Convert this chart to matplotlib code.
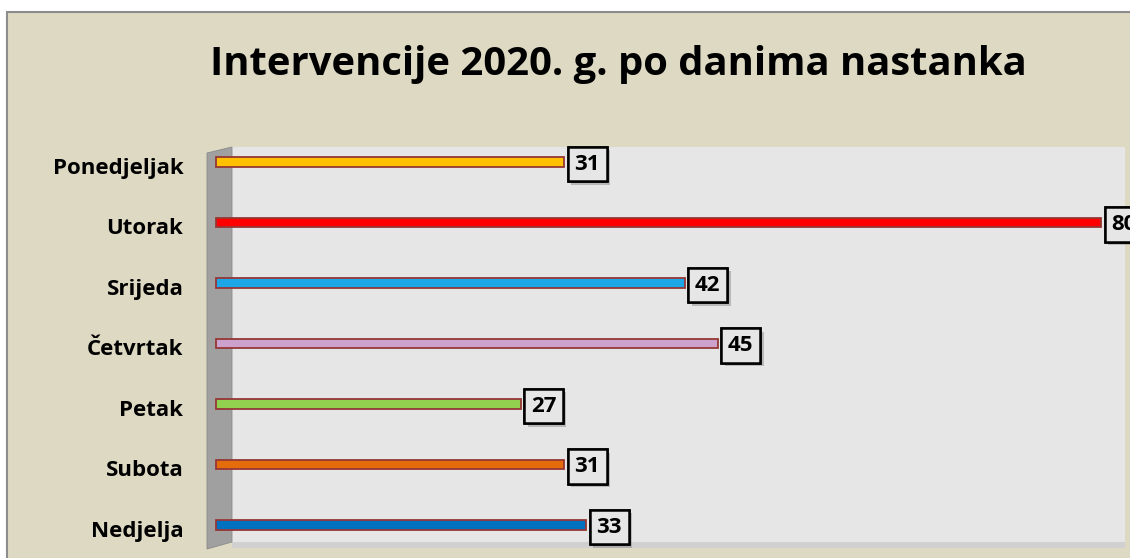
import matplotlib.pyplot as plt
import matplotlib.patheffects as pe
from matplotlib.patches import Rectangle, Polygon

days = ['Ponedjeljak', 'Utorak', 'Srijeda', 'Četvrtak', 'Petak', 'Subota', 'Nedjelja']
counts = [31, 80, 42, 45, 27, 31, 33]
colors = ['#FFC000', '#FF0000', '#1DA7E6', '#CCA2CC', '#92D050', '#E46C0A', '#0070C0']

W, H = 1130, 558
fig = plt.figure(figsize=(W / 100, H / 100), dpi=100)
fig.patch.set_facecolor('white')


def px(x, y):
    # pixel (from top-left) -> figure fraction
    return x / W, 1 - y / H


# beige chart area with grey border
fig.patches.append(Rectangle(px(7, H + 10), (W + 10) / W, (H - 2) / H,
                             transform=fig.transFigure, facecolor='#DDD9C3',
                             edgecolor='#8C8C8C', linewidth=1.5, zorder=0))

fig.text(618 / W, 1 - 65 / H, 'Intervencije 2020. g. po danima nastanka',
         ha='center', va='center', fontsize=28.8, fontweight='bold',
         family='Open Sans', color='black')

# plot area: floor strip, back wall, grey side wall
fig.patches.append(Rectangle(px(232, 548), (1125 - 232) / W, 6 / H, transform=fig.transFigure,
                             facecolor='#D0D0D0', edgecolor='none', zorder=0))
fig.patches.append(Rectangle(px(232, 542), (1125 - 232) / W, (542 - 147) / H,
                             transform=fig.transFigure, facecolor='#E6E6E6',
                             edgecolor='none', zorder=0))
fig.patches.append(Polygon([px(207, 153), px(232, 147), px(232, 542), px(207, 549)],
                           closed=True, transform=fig.transFigure, facecolor='#A0A0A0',
                           edgecolor='#8A8A8A', linewidth=0.6, zorder=0))

# axes: x pixel 207..1125, y pixel 148..548
ax_l, ax_r, ax_t, ax_b = 207, 1125, 148, 548
ax = fig.add_axes([ax_l / W, 1 - ax_b / H, (ax_r - ax_l) / W, (ax_b - ax_t) / H])
ax.set_zorder(2)
ax.set_facecolor('none')
x0_px, scale = 225, 10.95
ax.set_xlim((ax_l - x0_px) / scale, (ax_r - x0_px) / scale)
y0_px, step = 162, 60.5
ax.set_ylim((ax_b - y0_px) / step, (ax_t - y0_px) / step)

# bars start inside the side wall (3D depth)
depth = 0.85
y = list(range(len(days)))
ax.barh(y, [c + depth for c in counts], left=-depth, height=0.16, color=colors,
        edgecolor='#953735', linewidth=1.3, zorder=3)

shadow = [pe.withSimplePatchShadow(offset=(2.5, -2.5), shadow_rgbFace='#808080', alpha=0.45),
          pe.Normal()]
for yi, v in zip(y, counts):
    ann = ax.annotate(str(v), xy=(v, yi), xytext=(16.5, -1.5), textcoords='offset points',
                      ha='center', va='center', fontsize=16, fontweight='bold',
                      family='Open Sans', annotation_clip=False, zorder=5,
                      bbox=dict(boxstyle='square,pad=0.3', facecolor='#E6E6E6',
                                edgecolor='black', linewidth=1.8))
    ann.get_bbox_patch().set_path_effects(shadow)

for yi, d in zip(y, days):
    ax.annotate(d, xy=(0, yi), xycoords=('axes fraction', 'data'), xytext=(-17, -4.5),
                textcoords='offset points', ha='right', va='center', fontsize=16,
                fontweight='bold', family='Open Sans', annotation_clip=False)

ax.set_yticks([])
ax.set_xticks([])
for s in ax.spines.values():
    s.set_visible(False)

fig.savefig('out.png', dpi=100, facecolor=fig.get_facecolor())
